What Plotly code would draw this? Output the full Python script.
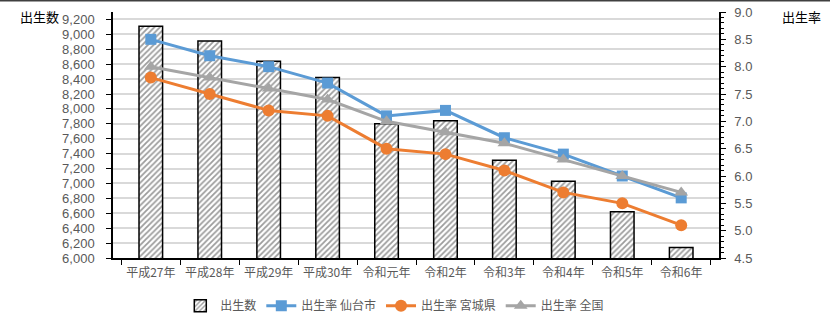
import plotly.graph_objects as go

categories = ["平成27年", "平成28年", "平成29年", "平成30年", "令和元年",
              "令和2年", "令和3年", "令和4年", "令和5年", "令和6年"]
births = [9110, 8910, 8640, 8420, 7800, 7840, 7310, 7030, 6620, 6140]
rate_sendai = [8.5, 8.2, 8.0, 7.7, 7.1, 7.2, 6.7, 6.4, 6.0, 5.6]
rate_miyagi = [7.8, 7.5, 7.2, 7.1, 6.5, 6.4, 6.1, 5.7, 5.5, 5.1]
rate_japan = [8.0, 7.8, 7.6, 7.4, 7.0, 6.8, 6.6, 6.3, 6.0, 5.7]

FONT = "Noto Sans CJK JP"
NUMFONT = "Liberation Sans"
TICKC = "#595959"

W, H = 830, 331
L, R, T, B = 113, 111, 12, 73
pw, ph = W - L - R, H - T - B

fig = go.Figure()
fig.add_trace(go.Bar(
    x=categories, y=births, name="出生数", width=0.4,
    marker=dict(color="white", line=dict(color="black", width=1.5),
                pattern=dict(shape="/", size=4, solidity=0.45,
                             fgcolor="#3a3a3a", bgcolor="white")),
))
fig.add_trace(go.Scatter(
    x=categories, y=rate_sendai, name="出生率 仙台市", yaxis="y2",
    mode="lines+markers", line=dict(color="#5B9BD5", width=3),
    marker=dict(symbol="square", size=11, color="#5B9BD5"),
))
fig.add_trace(go.Scatter(
    x=categories, y=rate_miyagi, name="出生率 宮城県", yaxis="y2",
    mode="lines+markers", line=dict(color="#ED7D31", width=3),
    marker=dict(symbol="circle", size=12, color="#ED7D31"),
))
fig.add_trace(go.Scatter(
    x=categories, y=rate_japan, name="出生率 全国", yaxis="y2",
    mode="lines+markers", line=dict(color="#A5A5A5", width=3),
    marker=dict(symbol="triangle-up", size=12, color="#A5A5A5"),
))

fig.update_layout(
    width=W, height=H,
    margin=dict(l=L, r=R, t=T, b=B, autoexpand=False),
    paper_bgcolor="white", plot_bgcolor="white",
    font=dict(family=FONT, size=12, color=TICKC),
    showlegend=True,
    legend=dict(orientation="h", x=0.465, xanchor="center", y=-0.135,
                yanchor="top", font=dict(size=12, color=TICKC),
                itemwidth=30, traceorder="normal"),
    xaxis=dict(
        type="category", showline=True, linecolor="black", linewidth=1.5,
        ticks="outside", tickson="boundaries", ticklen=5, tickcolor="black",
        showgrid=False, tickfont=dict(size=12, color=TICKC), automargin=False,
        ticklabelstandoff=3,
    ),
    yaxis=dict(
        range=[6000, 9300], tick0=6000, dtick=200, tickformat=",d",
        showline=True, linecolor="black", linewidth=1.5,
        ticks="outside", ticklen=5, tickcolor="black",
        showgrid=True, gridcolor="#D9D9D9", gridwidth=1.5,
        zeroline=False, ticklabelstandoff=9, automargin=False,
        tickfont=dict(size=13, color=TICKC, family=NUMFONT),
    ),
    yaxis2=dict(
        range=[4.5, 9.0], tick0=4.5, dtick=0.5, tickformat=".1f",
        overlaying="y", side="right",
        showline=True, linecolor="black", linewidth=1.5,
        ticks="outside", ticklen=5, tickcolor="black",
        minor=dict(dtick=0.1, ticks="outside", ticklen=3, tickcolor="black"),
        showgrid=False, zeroline=False, ticklabelstandoff=6, automargin=False,
        tickfont=dict(size=13, color=TICKC, family=NUMFONT),
    ),
    bargap=0.6,
)

fig.add_annotation(text="出生数", xref="paper", yref="paper",
                   x=-(L - 18) / pw, y=1 + (T - 17) / ph,
                   xanchor="left", yanchor="middle", showarrow=False,
                   font=dict(size=13, color="black", family=FONT))
fig.add_annotation(text="出生率", xref="paper", yref="paper",
                   x=(780 - L) / pw, y=1 + (T - 17) / ph,
                   xanchor="left", yanchor="middle", showarrow=False,
                   font=dict(size=13, color="black", family=FONT))
fig.add_shape(type="line", xref="paper", yref="paper",
              x0=-L / pw, x1=(W - L) / pw, y0=1 + (T - 0.75) / ph,
              y1=1 + (T - 0.75) / ph, line=dict(color="#404040", width=1.5))

fig.write_html("out.html")
